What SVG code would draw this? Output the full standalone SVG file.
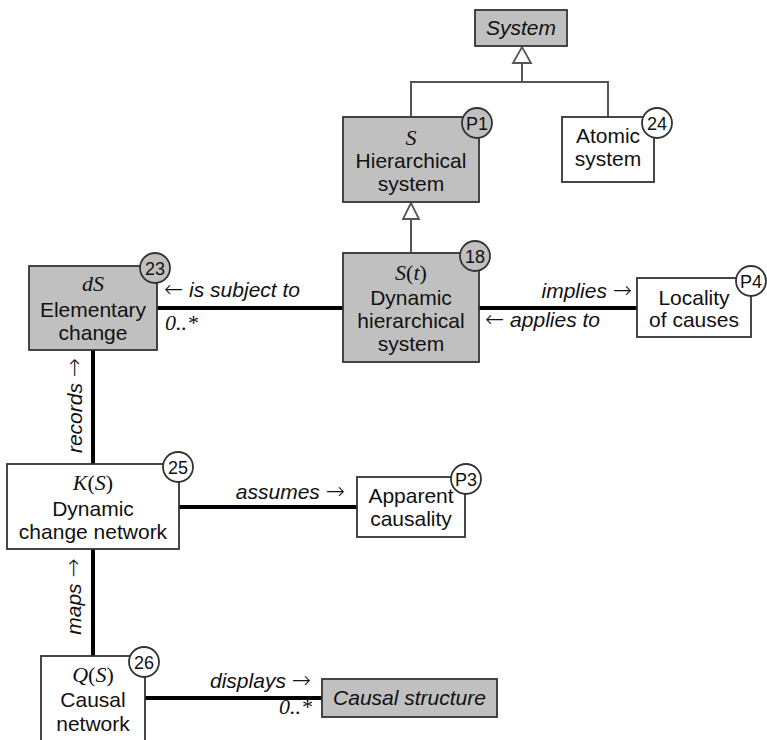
<svg xmlns="http://www.w3.org/2000/svg" width="767" height="740" viewBox="0 0 767 740">
<style>
.box{stroke:#333;stroke-width:1.8}
.g{fill:#c0c0c0}
.w{fill:#fff}
.t{font-family:"Liberation Sans",Arial,sans-serif;font-size:21px;fill:#111;text-anchor:middle}
.m{font-family:"Liberation Serif","Times New Roman",serif;font-size:22px;fill:#111;text-anchor:middle}
.i{font-style:italic}
.lbl{font-family:"Liberation Sans",Arial,sans-serif;font-size:21px;font-style:italic;fill:#111}
.ar{font-family:"DejaVu Sans",sans-serif;font-style:normal;font-weight:200;font-size:23px}
.num{font-family:"Liberation Sans",Arial,sans-serif;font-size:18px;fill:#111;text-anchor:middle}
.assoc{stroke:#000;stroke-width:4;fill:none}
.gen{stroke:#555;stroke-width:2;fill:none}
.tri{stroke:#555;stroke-width:1.8;fill:#fff}
</style>
<g id="connectors">
  <polyline class="gen" points="411,117 411,82 608,82 608,117"/>
  <line class="gen" x1="522" y1="82" x2="522" y2="63"/>
  <polygon class="tri" points="522,47 513,63 531,63"/>
  <line class="gen" x1="411" y1="253" x2="411" y2="219"/>
  <polygon class="tri" points="411,203 403,219 419,219"/>
  <line class="assoc" x1="157" y1="308" x2="343" y2="308"/>
  <line class="assoc" x1="479" y1="308" x2="637" y2="308"/>
  <line class="assoc" x1="179" y1="507" x2="357" y2="507"/>
  <line class="assoc" x1="145" y1="698" x2="322" y2="698"/>
  <line class="assoc" x1="93" y1="350" x2="93" y2="464"/>
  <line class="assoc" x1="93" y1="549" x2="93" y2="656"/>
  <text class="lbl" x="164" y="297"><tspan class="ar">←</tspan> is subject to</text>
  <text class="m i" x="165" y="330" style="text-anchor:start">0..*</text>
  <text class="lbl" x="632" y="298" text-anchor="end">implies <tspan class="ar">→</tspan></text>
  <text class="lbl" x="485" y="327"><tspan class="ar">←</tspan> applies to</text>
  <text class="lbl" x="345" y="499" text-anchor="end">assumes <tspan class="ar">→</tspan></text>
  <text class="lbl" x="311" y="688" text-anchor="end">displays <tspan class="ar">→</tspan></text>
  <text class="m i" x="312" y="714" style="text-anchor:end">0..*</text>
  <text class="lbl" transform="translate(82,405.5) rotate(-90)" text-anchor="middle">records <tspan class="ar">→</tspan></text>
  <text class="lbl" transform="translate(81,596.5) rotate(-90)" text-anchor="middle">maps <tspan class="ar">→</tspan></text>
</g>
<g id="system">
  <rect class="box g" x="475" y="10" width="92" height="36"/>
  <text class="t i" x="521" y="35">System</text>
</g>
<g id="hierarchical">
  <rect class="box g" x="343" y="117" width="136" height="85"/>
  <text class="m i" x="411" y="145">S</text>
  <text class="t" x="411" y="168">Hierarchical</text>
  <text class="t" x="411" y="191">system</text>
  <circle class="box g" cx="477" cy="123" r="15"/>
  <text class="num" x="477" y="129.5">P1</text>
</g>
<g id="atomic">
  <rect class="box w" x="562" y="117" width="92" height="65"/>
  <text class="t" x="608" y="143">Atomic</text>
  <text class="t" x="608" y="166">system</text>
  <circle class="box w" cx="657" cy="123" r="15"/>
  <text class="num" x="657" y="129.5">24</text>
</g>
<g id="dynamic">
  <rect class="box g" x="343" y="253" width="136" height="109"/>
  <text class="m" x="411" y="280"><tspan class="i">S</tspan>(<tspan class="i">t</tspan>)</text>
  <text class="t" x="411" y="305">Dynamic</text>
  <text class="t" x="411" y="328">hierarchical</text>
  <text class="t" x="411" y="351">system</text>
  <circle class="box g" cx="475" cy="256" r="15"/>
  <text class="num" x="475" y="262.5">18</text>
</g>
<g id="elementary">
  <rect class="box g" x="29" y="266" width="128" height="84"/>
  <text class="m i" x="93" y="291">dS</text>
  <text class="t" x="93" y="317">Elementary</text>
  <text class="t" x="93" y="340">change</text>
  <circle class="box g" cx="155" cy="268" r="15"/>
  <text class="num" x="155" y="274.5">23</text>
</g>
<g id="locality">
  <rect class="box w" x="637" y="278" width="114" height="59"/>
  <text class="t" x="694" y="305">Locality</text>
  <text class="t" x="694" y="327">of causes</text>
  <circle class="box w" cx="751" cy="281" r="15"/>
  <text class="num" x="751" y="287.5">P4</text>
</g>
<g id="dcn">
  <rect class="box w" x="7" y="464" width="172" height="85"/>
  <text class="m" x="93" y="490"><tspan class="i">K</tspan>(<tspan class="i">S</tspan>)</text>
  <text class="t" x="93" y="516">Dynamic</text>
  <text class="t" x="93" y="539">change network</text>
  <circle class="box w" cx="178" cy="467" r="15"/>
  <text class="num" x="178" y="473.5">25</text>
</g>
<g id="apparent">
  <rect class="box w" x="357" y="477" width="108" height="60"/>
  <text class="t" x="411" y="503">Apparent</text>
  <text class="t" x="411" y="526">causality</text>
  <circle class="box w" cx="466" cy="479" r="15"/>
  <text class="num" x="466" y="485.5">P3</text>
</g>
<g id="causalnet">
  <rect class="box w" x="41" y="656" width="104" height="95"/>
  <text class="m" x="93" y="682"><tspan class="i">Q</tspan>(<tspan class="i">S</tspan>)</text>
  <text class="t" x="93" y="707">Causal</text>
  <text class="t" x="93" y="731">network</text>
  <circle class="box w" cx="144" cy="662" r="15"/>
  <text class="num" x="144" y="668.5">26</text>
</g>
<g id="structure">
  <rect class="box g" x="322" y="679" width="175" height="38"/>
  <text class="t i" x="409.5" y="705">Causal structure</text>
</g>
</svg>
